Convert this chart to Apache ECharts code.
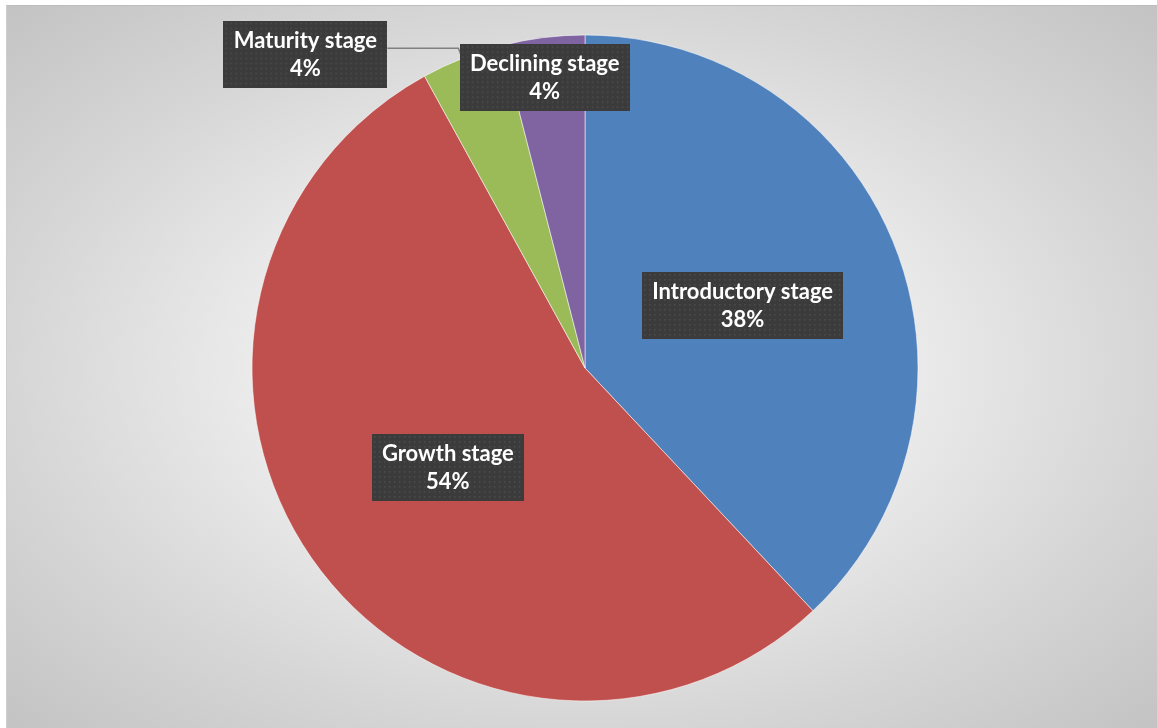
<!DOCTYPE html>
<html>
<head>
<meta charset="utf-8">
<script src="https://cdn.jsdelivr.net/npm/echarts@6/dist/echarts.min.js"></script>
<style>
  html, body { margin: 0; padding: 0; background: #ffffff; }
  #frame {
    position: absolute; left: 6px; top: 5px; width: 1151px; height: 723px;
    box-sizing: border-box;
    border-top: 1px solid #bdbdbd; border-left: 1px solid #cfcfcf;
    background: radial-gradient(ellipse farthest-corner at 50% 50%, #f6f6f6 0%, #ebebeb 40%, #d6d6d6 70%, #c3c3c3 100%);
  }
  #chart { position: absolute; left: 0; top: 0; width: 1150px; height: 722px; }
</style>
</head>
<body>
<div id="frame"><div id="chart"></div></div>
<script>
// Product life-cycle stage shares
const stages = ['Introductory stage', 'Growth stage', 'Maturity stage', 'Declining stage'];
const shares = [38, 54, 4, 4];
const stageColors = ['#4F81BD', '#C0504D', '#9BBB59', '#8064A2'];

const FONT_FAMILY = 'Lato';
const FONT_SIZE = 22;
const LINE_H = 28;
const PAD = [6, 10, 5, 10];

// Dark dotted label tile, sized to the label box
function dottedTile(w, h) {
  const c = document.createElement('canvas');
  c.width = Math.round(w); c.height = Math.round(h);
  const g = c.getContext('2d');
  g.fillStyle = '#3b3b3b';
  g.fillRect(0, 0, c.width, c.height);
  g.fillStyle = 'rgba(255,255,255,0.10)';
  for (let y = 2; y < c.height; y += 5) {
    for (let x = 2; x < c.width; x += 5) {
      g.fillRect(x, y, 1.5, 1.5);
    }
  }
  return c;
}

const measureCtx = document.createElement('canvas').getContext('2d');
measureCtx.font = 'bold ' + FONT_SIZE + 'px ' + FONT_FAMILY;
const total = shares.reduce((a, b) => a + b, 0);

const data = stages.map((name, i) => {
  const pct = Math.round(shares[i] / total * 100) + '%';
  const textW = Math.ceil(Math.max(measureCtx.measureText(name).width, measureCtx.measureText(pct).width));
  const w = textW + PAD[1] + PAD[3];
  const h = LINE_H * 2 + PAD[0] + PAD[2];
  const item = {
    name: name,
    value: shares[i],
    itemStyle: { color: stageColors[i] },
    label: {
      backgroundColor: { image: dottedTile(w, h) },
      rich: { t: { width: textW, align: 'center', color: '#ffffff', fontFamily: FONT_FAMILY,
                   fontWeight: 'bold', fontSize: FONT_SIZE, lineHeight: LINE_H } }
    }
  };
  if (name === 'Maturity stage') {
    item.label.position = 'outside';
    item.label.distanceToLabelLine = 0;
    item.labelLine = { show: true, length: 11, length2: 71, lineStyle: { color: '#808080', width: 1.5 } };
  } else if (name === 'Declining stage') {
    item.label.offset = [-19, -122];
  }
  return item;
});

const chart = echarts.init(document.getElementById('chart'), null, { renderer: 'canvas' });
chart.setOption({
  animation: false,
  series: [{
    type: 'pie',
    center: [578, 362],
    radius: [0, 333],
    startAngle: 90,
    clockwise: true,
    percentPrecision: 0,
    avoidLabelOverlap: false,
    itemStyle: { borderColor: 'rgba(255,255,255,0.7)', borderWidth: 0.75 },
    label: {
      show: true,
      position: 'inside',
      formatter: '{t|{b}}\n{t|{d}%}',
      color: '#ffffff',
      fontFamily: FONT_FAMILY,
      fontWeight: 'bold',
      fontSize: FONT_SIZE,
      lineHeight: LINE_H,
      padding: PAD,
      shadowColor: 'rgba(0,0,0,0.55)',
      shadowBlur: 6,
      shadowOffsetX: 3,
      shadowOffsetY: 3
    },
    labelLayout: function (params) {
      return params.dataIndex === 2 ? { dy: 6 } : {};
    },
    labelLine: { show: false },
    emphasis: { disabled: true },
    data: data
  }]
});
</script>
</body>
</html>
